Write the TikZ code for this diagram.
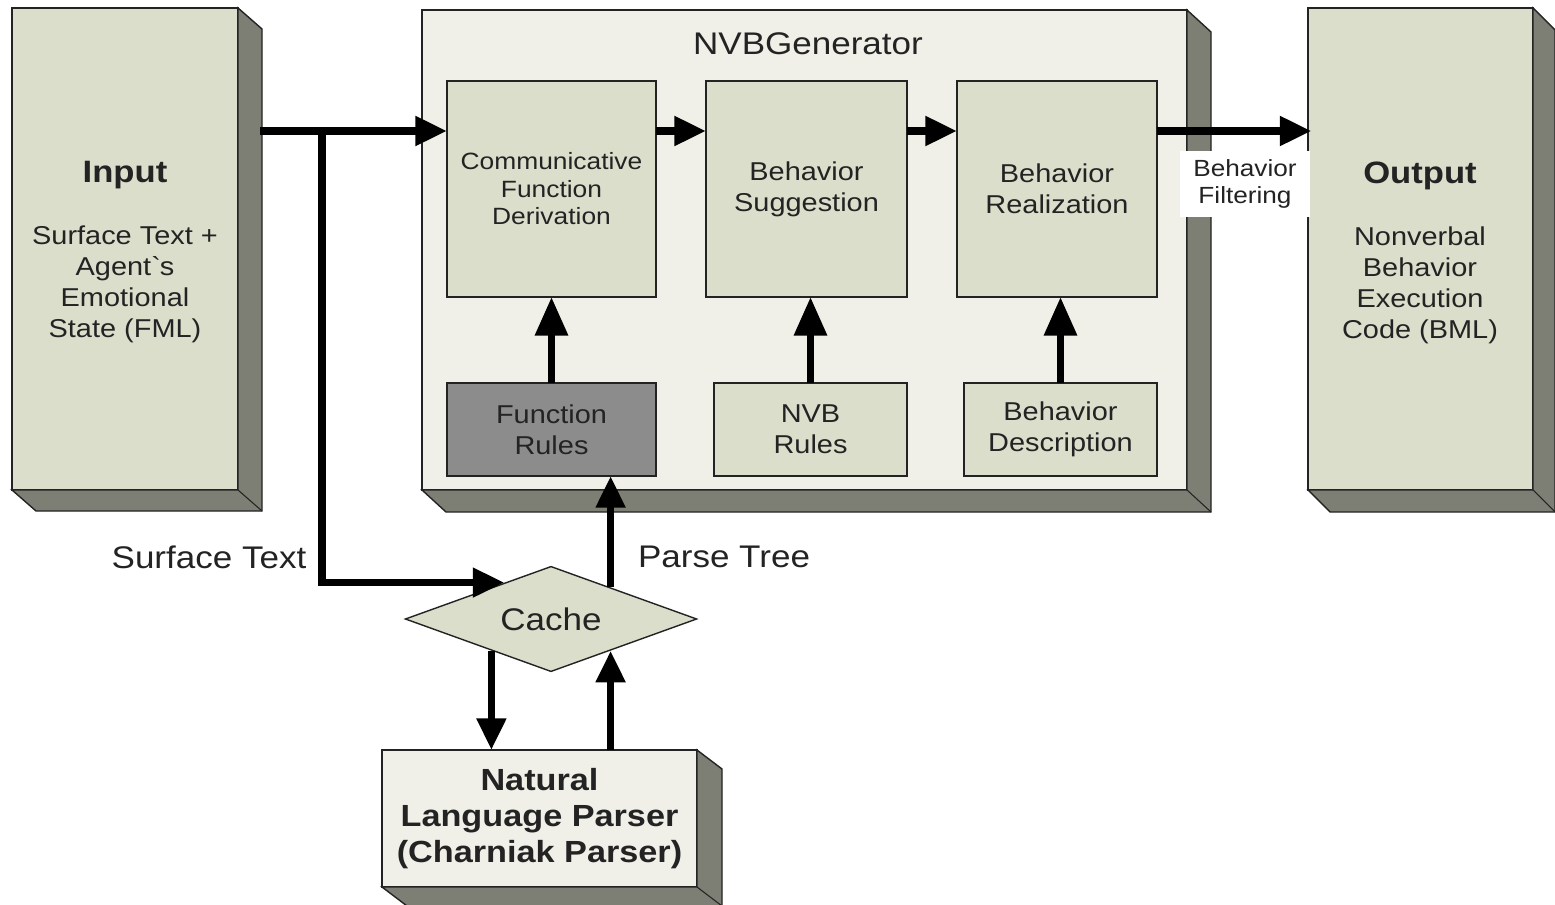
\documentclass[tikz,border=0pt]{standalone}
\usepackage{fontspec}
\setmainfont[FakeStretch=1.12]{Liberation Sans}
\usetikzlibrary{shapes.geometric,arrows.meta,calc,fit}
\definecolor{sage}{RGB}{220,222,204}
\definecolor{pale}{RGB}{240,240,233}
\definecolor{side}{RGB}{125,127,117}
\definecolor{darkfill}{RGB}{140,140,140}
\definecolor{ink}{RGB}{35,35,35}
\newcommand{\extrude}[3]{%
  \fill[side,draw=ink,line width=0.8pt] (#1.north east) -- ++(#2,#3) -- ($(#1.south east)+(#2,#3)$) -- ($(#1.south west)+(#2,#3)$) -- (#1.south west) -- (#1.south east) -- cycle;
  \draw[ink,line width=0.6pt] (#1.south east) -- ++(#2,#3);
}
\begin{document}
\begin{tikzpicture}[x=0.02cm,y=-0.02cm,
  box/.style={draw=ink, line width=0.8pt, fill=sage, inner sep=0pt, outer sep=0pt},
  boxtext/.style={align=center, text=ink, inner sep=0pt},
  midtext/.style={font=\fontsize{14.7}{17.6}\selectfont},
  bigtext/.style={font=\fontsize{17.8}{21}\selectfont, text=ink},
  titletext/.style={font=\bfseries\fontsize{17.6}{21}\selectfont, text=ink},
  arr/.style={line width=4.3pt, -{Triangle[length=18pt,width=16pt]}},
  uparr/.style={line width=4.3pt, -{Triangle[length=22pt,width=18pt]}}]
\useasboundingbox (0,0) rectangle (1555,905);

% Input
\node[box, fit={(12,8) (238,490)}] (input) {};
\extrude{input}{24}{21}
\node[titletext] (inputtitle) at (125,175) {Input};
\node[boxtext, midtext] (inputbody) at (125,284) {Surface Text +\\Agent\textasciigrave s\\Emotional\\State (FML)};

% Output
\node[box, fit={(1308,8) (1533,490)}] (output) {};
\extrude{output}{22}{22}
\node[titletext] (outputtitle) at (1420,176) {Output};
\node[boxtext, midtext] (outputbody) at (1420,285) {Nonverbal\\Behavior\\Execution\\Code (BML)};

% NVBGenerator
\node[box, fill=pale, fit={(422,10) (1187,490)}] (nvbg) {};
\extrude{nvbg}{24}{22}
\node[bigtext] (nvbgtitle) at (808,44) {NVBGenerator};

\node[box, fit={(447,81) (656,297)}] (cfd) {};
\node[boxtext, font=\fontsize{13.4}{15.7}\selectfont] (cfdtxt) at (cfd.center) {Communicative\\Function\\Derivation};
\node[box, fit={(706,81) (907,297)}] (bs) {};
\node[boxtext, midtext] (bstxt) at (bs.center) {Behavior\\Suggestion};
\node[box, fit={(957,81) (1157,297)}] (br) {};
\node[boxtext, midtext] (brtxt) at (br.center) {Behavior\\Realization};
\node[box, fill=darkfill, fit={(447,383) (656,476)}] (fr) {};
\node[boxtext, midtext] (frtxt) at (fr.center) {Function\\Rules};
\node[box, fit={(714,383) (907,476)}] (nvbr) {};
\node[boxtext, midtext] (nvbrtxt) at (nvbr.center) {NVB\\Rules};
\node[box, fit={(964,383) (1157,476)}] (bd) {};
\node[boxtext, midtext] (bdtxt) at (bd.center) {Behavior\\Description};

% Cache
\node[draw=ink, line width=0.8pt, fill=sage, diamond, aspect=2.77, inner sep=0pt, minimum width=166pt, minimum height=60pt, bigtext] (cache) at (551,619) {Cache};

% Parser
\node[box, fill=pale, fit={(382,750) (697,887)}] (parser) {};
\extrude{parser}{25}{19}
\node[boxtext, font=\bfseries\fontsize{17.4}{20.5}\selectfont] (parsertxt) at (parser.center) {Natural\\Language Parser\\(Charniak Parser)};

% labels
\node[bigtext] (stlabel) at (209,557) {Surface Text};
\node[bigtext] (ptlabel) at (724,557) {Parse Tree};

% arrows
\coordinate (row) at (0,131);
\coordinate (inR) at ($(input.east)+(22,0)$);
\coordinate (split) at (322,131);
\draw[arr] (inR |- row) -- (cfd.west |- row);
\draw[arr] (split) |- (cache.142);
\draw[arr] (cfd.east |- row) -- (bs.west |- row);
\draw[arr] (bs.east |- row) -- (br.west |- row);
\draw[arr] (br.east |- row) -- ([xshift=2pt]output.west |- row);
\draw[uparr] (fr) -- (cfd);
\draw[uparr] (nvbr.north) -- (nvbr.north |- bs.south);
\draw[uparr] (bd.north) -- (bd.north |- br.south);
\draw[arr] (cache.28) -- (cache.28 |- fr.south);
\draw[arr] (cache.208) -- (cache.208 |- parser.north);
\draw[arr] (parser.north -| cache.332) -- (cache.332);

% Behavior Filtering label
\node[fill=white, inner sep=0pt, minimum width=73.5pt, minimum height=37pt, align=center, text=ink, font=\fontsize{13.3}{15.4}\selectfont] (bf) at (1245,184) {Behavior\\Filtering};
\end{tikzpicture}
\end{document}
